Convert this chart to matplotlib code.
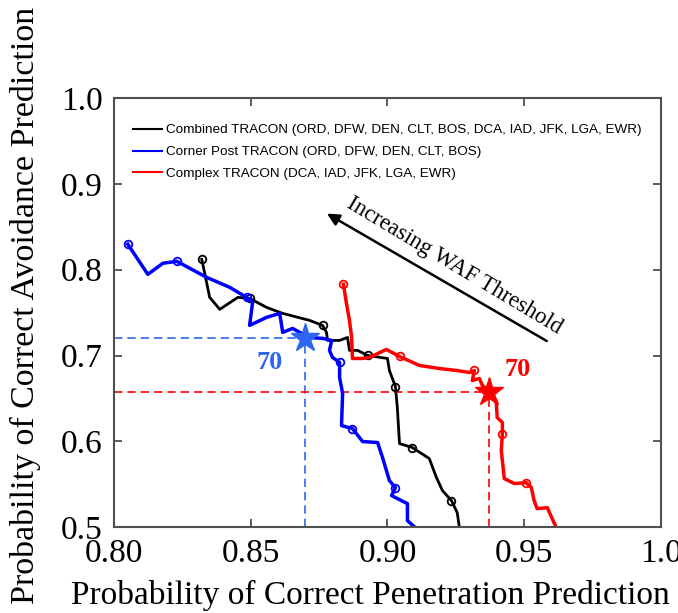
import matplotlib.pyplot as plt
import numpy as np

# Кривые (x = вероятность проникновения, y = вероятность избегания)
combined_x = [0.8321, 0.8332, 0.8350, 0.8387, 0.8453, 0.8496, 0.8558, 0.8617, 0.8715, 0.8763,
              0.8777, 0.8781, 0.8825, 0.8854, 0.8861, 0.8891, 0.8927, 0.9000, 0.9007, 0.9029,
              0.9036, 0.9044, 0.9091, 0.9153, 0.9179, 0.9201, 0.9234, 0.9255, 0.9263]
combined_y = [0.8121, 0.7958, 0.7678, 0.7538, 0.7678, 0.7666, 0.7561, 0.7491, 0.7410, 0.7351,
              0.7270, 0.7176, 0.7176, 0.7211, 0.7060, 0.7060, 0.7001, 0.6966, 0.6826, 0.6639,
              0.6394, 0.5974, 0.5928, 0.5799, 0.5578, 0.5426, 0.5309, 0.5169, 0.4994]
combined_mk = [0, 5, 9, 16, 19, 22, 26]

corner_x = [0.8051, 0.8124, 0.8179, 0.8230, 0.8339, 0.8423, 0.8485, 0.8507, 0.8496, 0.8558,
            0.8606, 0.8617, 0.8653, 0.8686, 0.8704, 0.8763, 0.8796, 0.8788, 0.8799, 0.8825,
            0.8825, 0.8836, 0.8832, 0.8872, 0.8909, 0.8964, 0.8982, 0.9007, 0.9029, 0.9015,
            0.9073, 0.9073, 0.9102]
corner_y = [0.8296, 0.7946, 0.8075, 0.8098, 0.7911, 0.7795, 0.7678, 0.7620, 0.7351, 0.7445,
            0.7491, 0.7270, 0.7316, 0.7258, 0.7211, 0.7200, 0.7176, 0.7060, 0.6978, 0.6920,
            0.6744, 0.6558, 0.6184, 0.6149, 0.5998, 0.5986, 0.5811, 0.5543, 0.5461, 0.5368,
            0.5274, 0.5076, 0.4994]
corner_mk = [0, 3, 6, 19, 23, 28]

complex_x = [0.8839, 0.8850, 0.8861, 0.8869, 0.8872, 0.8909, 0.8934, 0.8996, 0.9044, 0.9117,
             0.9190, 0.9252, 0.9299, 0.9318, 0.9310, 0.9336, 0.9347, 0.9376, 0.9398, 0.9401,
             0.9420, 0.9420, 0.9416, 0.9427, 0.9464, 0.9507, 0.9526, 0.9536, 0.9547, 0.9584,
             0.9617]
complex_y = [0.7830, 0.7608, 0.7410, 0.7211, 0.6966, 0.6966, 0.6978, 0.7071, 0.6989, 0.6884,
             0.6849, 0.6826, 0.6803, 0.6826, 0.6709, 0.6733, 0.6651, 0.6581, 0.6441, 0.6278,
             0.6219, 0.6091, 0.5893, 0.5566, 0.5508, 0.5519, 0.5461, 0.5309, 0.5216, 0.5228,
             0.4994]
complex_mk = [0, 8, 13, 21, 25]

# Точки порога WAF = 70
star_corner = (0.870, 0.720)
star_complex = (0.937, 0.657)

labels = ['Combined TRACON (ORD, DFW, DEN, CLT, BOS, DCA, IAD, JFK, LGA, EWR)',
          'Corner Post TRACON (ORD, DFW, DEN, CLT, BOS)',
          'Complex TRACON (DCA, IAD, JFK, LGA, EWR)']

plt.rcParams['font.family'] = ['Liberation Serif', 'DejaVu Serif']

fig = plt.figure(figsize=(6.78, 6.13), dpi=100)
ax = fig.add_axes([0.168, 0.140, 0.807, 0.700])

star_blue = '#2f66f0'

# Пунктирные линии до осей
ax.plot([0.80, star_corner[0]], [star_corner[1]] * 2, '--', color=star_blue, lw=1.2, dashes=(5, 3))
ax.plot([star_corner[0]] * 2, [0.5, star_corner[1]], '--', color=star_blue, lw=1.2, dashes=(5, 3))
ax.plot([0.80, star_complex[0]], [star_complex[1]] * 2, '--', color='red', lw=1.2, dashes=(5, 3))
ax.plot([star_complex[0]] * 2, [0.5, star_complex[1]], '--', color='red', lw=1.2, dashes=(5, 3))

mk = dict(marker='o', markersize=5.5, markerfacecolor='none', markeredgewidth=1.3)
ax.plot(combined_x, combined_y, color='black', lw=2, markevery=combined_mk, label=labels[0], **mk)
ax.plot(corner_x, corner_y, color='blue', lw=2.5, markevery=corner_mk, label=labels[1], **mk)
ax.plot(complex_x, complex_y, color='red', lw=2.5, markevery=complex_mk, label=labels[2], **mk)

ax.plot(*star_corner, marker='*', color=star_blue, markersize=21, zorder=5)
ax.plot(*star_complex, marker='*', color='red', markersize=21, zorder=5)

ax.text(0.857, 0.692, '70', color=star_blue, fontsize=19, fontweight='bold', ha='center', va='center')
ax.text(0.9474, 0.684, '70', color='red', fontsize=19, fontweight='bold', ha='center', va='center')

# Стрелка "Increasing WAF Threshold"
ax.annotate('', xy=(0.8770, 0.867), xytext=(0.9591, 0.7153),
            arrowprops=dict(arrowstyle='-|>', color='black', lw=1.8, mutation_scale=18))
ax.text(0.9245, 0.805, 'Increasing WAF Threshold', fontsize=16.5, rotation=-31,
        rotation_mode='anchor', ha='center', va='center')

ax.set_xlim(0.80, 1.0)
ax.set_ylim(0.5, 1.0)
ax.set_xticks([0.80, 0.85, 0.90, 0.95, 1.0])
ax.set_xticklabels(['0.80', '0.85', '0.90', '0.95', '1.0'])
ax.set_yticks([0.5, 0.6, 0.7, 0.8, 0.9, 1.0])
ax.set_yticklabels(['0.5', '0.6', '0.7', '0.8', '0.9', '1.0'])
ax.tick_params(direction='in', length=6, width=1.2, top=True, right=True,
               labelsize=24, colors='#404040', labelcolor='black', pad=8)
for s in ax.spines.values():
    s.set_color('#505050')
    s.set_linewidth(1.5)

ax.set_xlabel('Probability of Correct Penetration Prediction', fontsize=24)
ax.set_ylabel('Probability of Correct Avoidance Prediction', fontsize=24.5)
ax.xaxis.set_label_coords(0.468, -0.122)
ax.yaxis.set_label_coords(-0.134, 0.517)

ax.legend(loc='upper left', bbox_to_anchor=(0.012, 0.968), frameon=False,
          prop={'family': 'Liberation Sans', 'size': 9.7}, handlelength=2.2,
          handletextpad=0.3, labelspacing=0.7)
leg = ax.get_legend()
for h in leg.get_lines():
    h.set_marker('')
    h.set_linewidth(1.5)

plt.savefig('out.png', dpi=100)
